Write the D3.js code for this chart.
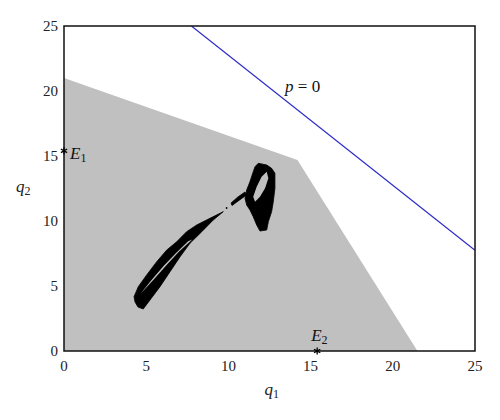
<!DOCTYPE html>
<html><head><meta charset="utf-8">
<script src="https://cdn.jsdelivr.net/npm/d3@7"></script>
<style>body{margin:0;background:#fff}svg{display:block}text{font-family:"Liberation Serif","Times New Roman","DejaVu Serif",serif}</style>
</head><body>
<div id="chart"></div>
<script>
// Axis domains and ticks
const xTicks = [0, 5, 10, 15, 20, 25];
const yTicks = [0, 5, 10, 15, 20, 25];
// Feasible (grey) region vertices (q1, q2)
const regionQ1 = [0, 0, 14.2, 21.5];
const regionQ2 = [0, 21, 14.7, 0];
// p = 0 line: q1 + q2 = const
const pLineQ1 = [7.75, 25];
const pLineQ2 = [25, 7.75];
// Equilibria
const eqNames = ["1", "2"];
const eqQ1 = [0, 15.4];
const eqQ2 = [15.4, 0];
// Attractor outlines (outer boundary and holes), in (q1,q2)
const lensOuter = [[9.69,10.72],[8.88,10.21],[8.07,9.69],[7.46,9.18],[6.86,8.41],[6.25,7.77],[5.64,6.87],[5.03,5.85],[4.52,4.95],[4.26,4.18],[4.32,3.77],[4.50,3.38],[4.82,3.23],[5.23,3.92],[5.84,4.95],[6.45,6.10],[7.06,7.25],[7.66,8.28],[8.38,9.18],[9.08,10.08]];
const lensHole = [[4.80,4.60],[5.5,5.55],[6.27,6.66],[7.0,7.66],[7.80,8.58],[7.55,8.44],[6.80,7.52],[6.07,6.55],[5.30,5.42],[4.68,4.44]];
const nineOuter = [[11.82,14.44],[12.33,14.31],[12.63,14.05],[12.83,13.67],[12.83,12.52],[12.73,11.48],[12.63,10.72],[12.43,9.95],[12.33,9.31],[11.92,9.23],[11.72,9.69],[11.51,10.33],[11.31,10.85],[11.11,11.23],[11.01,11.75],[11.11,12.38],[11.31,13.02],[11.51,13.79],[11.62,14.18]];
const nineHole = [[12.33,13.79],[12.43,13.28],[12.23,12.52],[11.92,11.87],[11.62,11.48],[11.51,11.87],[11.72,12.64],[12.02,13.41]];
const tail = [[10.16,11.38],[10.58,11.85],[11.01,12.23],[11.10,12.0],[10.64,11.58],[10.22,11.19]];
const strayQ1 = [9.89];
const strayQ2 = [11.0];

const W = 500, H = 420;
const m = {left: 64, right: 25, top: 26, bottom: 69};
const svg = d3.select("#chart").append("svg").attr("width", W).attr("height", H);
const x = d3.scaleLinear().domain([0, 25]).range([m.left, W - m.right]);
const y = d3.scaleLinear().domain([0, 25]).range([H - m.bottom, m.top]);

svg.append("clipPath").attr("id", "clip").append("rect")
  .attr("x", x(0)).attr("y", y(25)).attr("width", x(25) - x(0)).attr("height", y(0) - y(25));
const g = svg.append("g").attr("clip-path", "url(#clip)");

const line = d3.line().x(d => x(d[0])).y(d => y(d[1]));
const closed = pts => line(pts) + "Z";

g.append("path").attr("d", closed(regionQ1.map((v, i) => [v, regionQ2[i]])))
  .attr("fill", "#c0c0c0");

g.append("path").attr("d", line(pLineQ1.map((v, i) => [v, pLineQ2[i]])))
  .attr("stroke", "#2b2bc8").attr("stroke-width", 1.2).attr("fill", "none");

g.append("path")
  .attr("d", closed(lensOuter) + closed(nineOuter) + closed(tail))
  .attr("fill", "#000")
  .attr("stroke", "#000").attr("stroke-width", 0.8).attr("stroke-linejoin", "round");
g.append("path")
  .attr("d", closed(lensHole) + closed(nineHole))
  .attr("fill", "#c0c0c0");
g.append("g").selectAll("circle").data(strayQ1).join("circle")
  .attr("cx", (d) => x(d)).attr("cy", (d, i) => y(strayQ2[i])).attr("r", 0.9).attr("fill", "#000");

// frame
svg.append("rect").attr("x", x(0)).attr("y", y(25)).attr("width", x(25) - x(0)).attr("height", y(0) - y(25))
  .attr("fill", "none").attr("stroke", "#111").attr("stroke-width", 1.5);

// tick labels
svg.append("g").selectAll("text").data(xTicks).join("text")
  .attr("x", d => x(d)).attr("y", y(0) + 20).attr("text-anchor", "middle")
  .attr("font-size", 15).attr("fill", "#222").text(d => d);
svg.append("g").selectAll("text").data(yTicks).join("text")
  .attr("x", x(0) - 6).attr("y", d => y(d) + 5).attr("text-anchor", "end")
  .attr("font-size", 15).attr("fill", "#222").text(d => d);

// axis labels
const xl = svg.append("text").attr("x", x(12.2)).attr("y", 395).attr("font-size", 17).attr("fill", "#222");
xl.append("tspan").attr("font-style", "italic").text("q");
xl.append("tspan").attr("font-size", 12).attr("dy", 3).text("1");
const yl = svg.append("text").attr("x", 16).attr("y", 192).attr("font-size", 17).attr("fill", "#222");
yl.append("tspan").attr("font-style", "italic").text("q");
yl.append("tspan").attr("font-size", 12).attr("dy", 3).text("2");

// p = 0 label
const pl = svg.append("text").attr("x", x(13.45)).attr("y", y(19.9)).attr("font-size", 17).attr("fill", "#111");
pl.append("tspan").attr("font-style", "italic").text("p");
pl.append("tspan").text(" = 0");

// equilibria
const star = d3.symbol().type(d3.symbolAsterisk).size(36);
svg.append("g").selectAll("path").data(eqNames).join("path")
  .attr("d", star).attr("transform", (d, i) => `translate(${x(eqQ1[i])},${y(eqQ2[i])})`)
  .attr("stroke", "#000").attr("stroke-width", 1.3).attr("fill", "none");
const eqLab = svg.append("g").selectAll("text").data(eqNames).join("text")
  .attr("x", (d, i) => i === 0 ? x(eqQ1[i]) + 6 : x(eqQ1[i]) - 6)
  .attr("y", (d, i) => i === 0 ? y(eqQ2[i]) + 8 : y(eqQ2[i]) - 10)
  .attr("font-size", 17).attr("fill", "#111");
eqLab.append("tspan").attr("font-style", "italic").text("E");
eqLab.append("tspan").attr("font-size", 12).attr("dy", 3).text(d => d);
</script>
</body></html>
